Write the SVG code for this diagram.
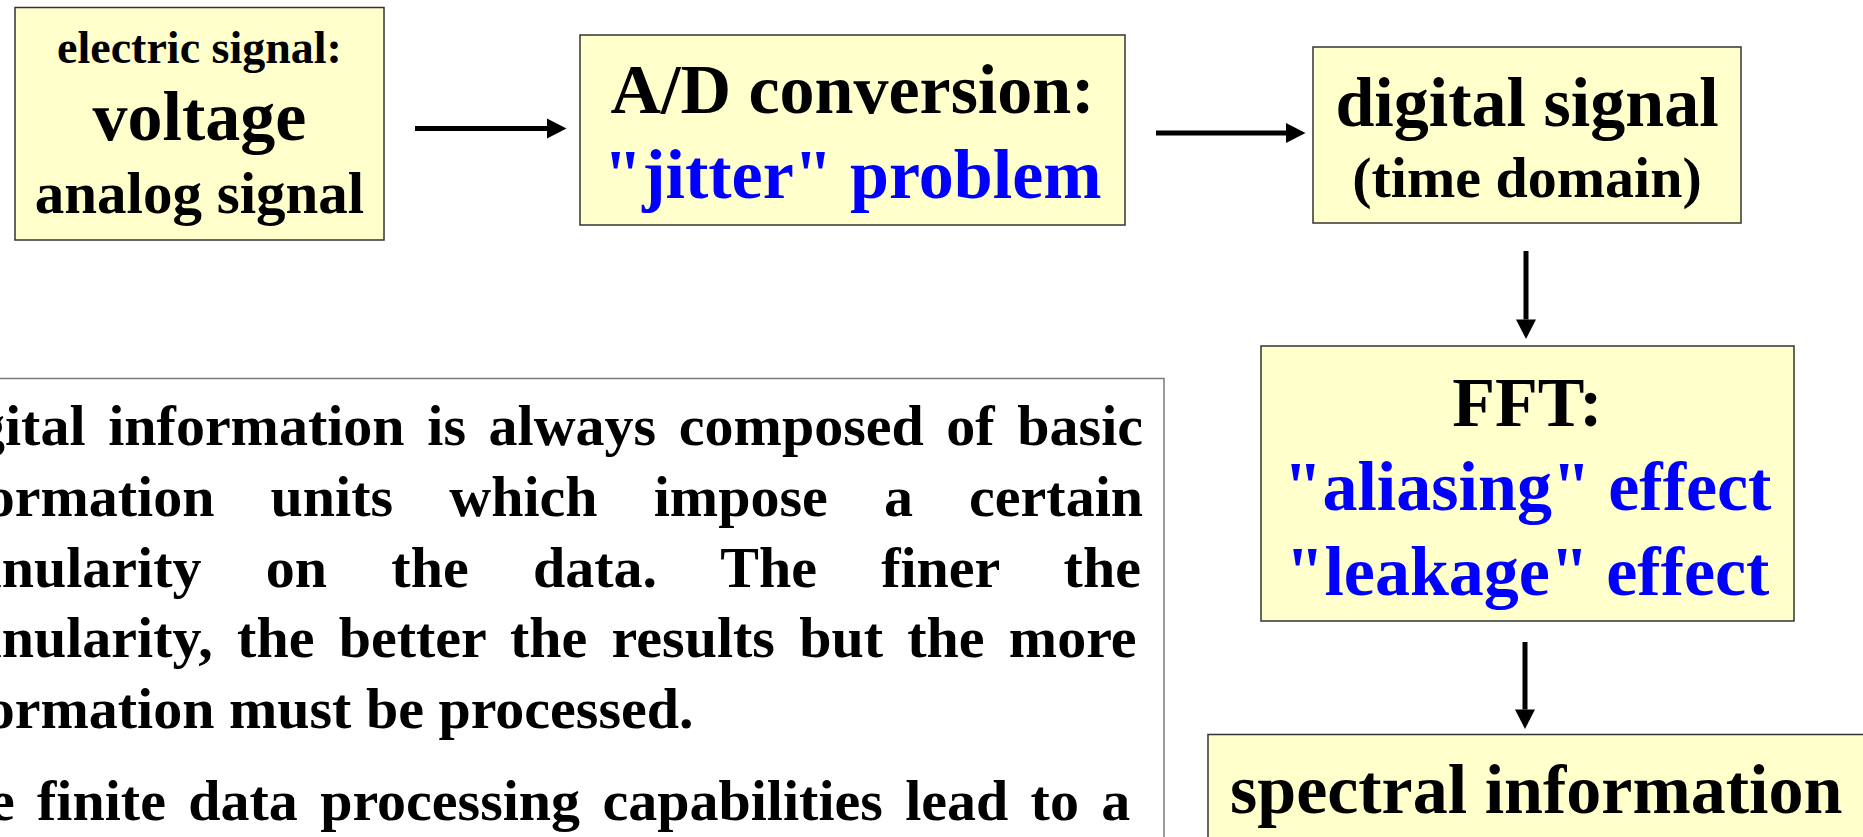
<svg xmlns="http://www.w3.org/2000/svg" width="1863" height="837" viewBox="0 0 1863 837">
  <defs>
    <style>
      .box { fill: #FFFFCC; stroke: #333333; stroke-width: 1.5; }
      .note { fill: #FFFFFF; stroke: #7A7A7A; stroke-width: 1.5; }
      .t { font-family: "Liberation Serif", "Times New Roman", serif; font-weight: bold; fill: #000000; }
      .c { text-anchor: middle; }
      .blue { fill: #0000FF; }
      .body { font-size: 58px; }
      .conn line { stroke: #000000; stroke-width: 5; }
    </style>
    <marker id="arrowhead" markerUnits="userSpaceOnUse" markerWidth="20" markerHeight="20" refX="0" refY="10" orient="auto" overflow="visible">
      <path d="M0,0 L19.5,10 L0,20 z" fill="#000000"/>
    </marker>
  </defs>

  <rect width="1863" height="837" fill="#FFFFFF"/>

  <!-- explanatory text panel (extends past the left and bottom edges) -->
  <g id="note">
    <rect class="note" x="-100" y="378.5" width="1264" height="600"/>
    <text class="t body" x="-82" y="445" style="word-spacing:8.15px">Digital information is always composed of basic</text>
    <text class="t body" x="-82" y="516" style="word-spacing:41.68px">information units which impose a certain</text>
    <text class="t body" x="-82" y="586.5" style="word-spacing:49.77px">granularity on the data. The finer the</text>
    <text class="t body" x="-82" y="657" style="word-spacing:9.77px">granularity, the better the results but the more</text>
    <text class="t body" x="-82" y="728">information must be processed.</text>
    <text class="t body" x="-82" y="820" style="word-spacing:7.85px">The finite data processing capabilities lead to a</text>
  </g>

  <!-- connectors -->
  <g id="connectors" class="conn">
    <line x1="415" y1="128.5" x2="547" y2="128.5" marker-end="url(#arrowhead)"/>
    <line x1="1156" y1="133" x2="1286" y2="133" marker-end="url(#arrowhead)"/>
    <line x1="1526" y1="251" x2="1526" y2="319.5" marker-end="url(#arrowhead)"/>
    <line x1="1525" y1="642" x2="1525" y2="709.5" marker-end="url(#arrowhead)"/>
  </g>

  <g id="analog">
    <rect class="box" x="15" y="7.5" width="369" height="232.5"/>
    <text class="t c" x="199.5" y="63" font-size="46">electric signal:</text>
    <text class="t c" x="199.5" y="140" font-size="70">voltage</text>
    <text class="t c" x="199.5" y="213" font-size="59">analog signal</text>
  </g>

  <g id="adc">
    <rect class="box" x="580" y="35" width="545" height="190"/>
    <text class="t c" x="852.5" y="113" font-size="70">A/D conversion:</text>
    <text class="t c blue" x="852.5" y="198" font-size="70">"jitter" problem</text>
  </g>

  <g id="digital">
    <rect class="box" x="1313" y="47" width="428" height="176"/>
    <text class="t c" x="1527" y="126" font-size="70">digital signal</text>
    <text class="t c" x="1527" y="197" font-size="58">(time domain)</text>
  </g>

  <g id="fft">
    <rect class="box" x="1261" y="346" width="533" height="275"/>
    <text class="t c" x="1527.5" y="426" font-size="70">FFT:</text>
    <text class="t c blue" x="1527.5" y="510" font-size="70">"aliasing" effect</text>
    <text class="t c blue" x="1527.5" y="595" font-size="70">"leakage" effect</text>
  </g>

  <g id="spectrum">
    <rect class="box" x="1208" y="734.5" width="720" height="200"/>
    <text class="t" x="1230" y="813" font-size="70">spectral information</text>
  </g>
</svg>
